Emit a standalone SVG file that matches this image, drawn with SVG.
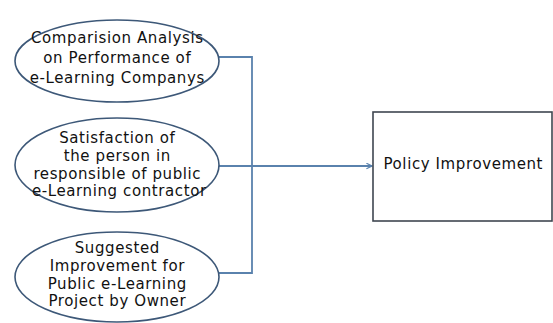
<svg xmlns="http://www.w3.org/2000/svg" width="553" height="323" viewBox="0 0 553 323">
<defs>
<style>
.node ellipse{fill:#fff;stroke:#3d5878;stroke-width:1.6}
.node rect{fill:#fff;stroke:#3f4650;stroke-width:1.6}
text{font-family:"DejaVu Sans","Liberation Sans",sans-serif;font-size:15px;letter-spacing:0.6px;fill:#111;text-anchor:middle}
.conn path{fill:none;stroke:#5a82ad;stroke-width:1.8}
</style>
<marker id="arr" viewBox="0 0 10 10" refX="9" refY="5" markerWidth="7" markerHeight="7" orient="auto" markerUnits="userSpaceOnUse">
<path d="M1,1 L9,5 L1,9" fill="none" stroke="#5a82ad" stroke-width="1.6"/>
</marker>
</defs>
<rect width="553" height="323" fill="#fff"/>
<g class="conn">
<path d="M219,57 H252 V273 H218"/>
<path d="M218,166 H372" marker-end="url(#arr)"/>
</g>
<g id="n1" class="node">
<ellipse cx="117" cy="61" rx="102" ry="41"/>
<text x="117.3" y="43">Comparision Analysis</text>
<text x="117.3" y="63">on Performance of</text>
<text x="117.3" y="83">e-Learning Companys</text>
</g>
<g id="n2" class="node">
<ellipse cx="117" cy="165" rx="102" ry="47"/>
<text x="117.3" y="143">Satisfaction of</text>
<text x="117.3" y="161">the person in</text>
<text x="117.3" y="178.5">responsible of public</text>
<text x="119.3" y="195.5">e-Learning contractor</text>
</g>
<g id="n3" class="node">
<ellipse cx="117" cy="277" rx="102" ry="45"/>
<text x="117.3" y="253">Suggested</text>
<text x="117.3" y="271">Improvement for</text>
<text x="117.3" y="289">Public e-Learning</text>
<text x="117.3" y="306">Project by Owner</text>
</g>
<g id="n4" class="node">
<rect x="373" y="112" width="179" height="109"/>
<text x="463.3" y="168.5">Policy Improvement</text>
</g>
</svg>
